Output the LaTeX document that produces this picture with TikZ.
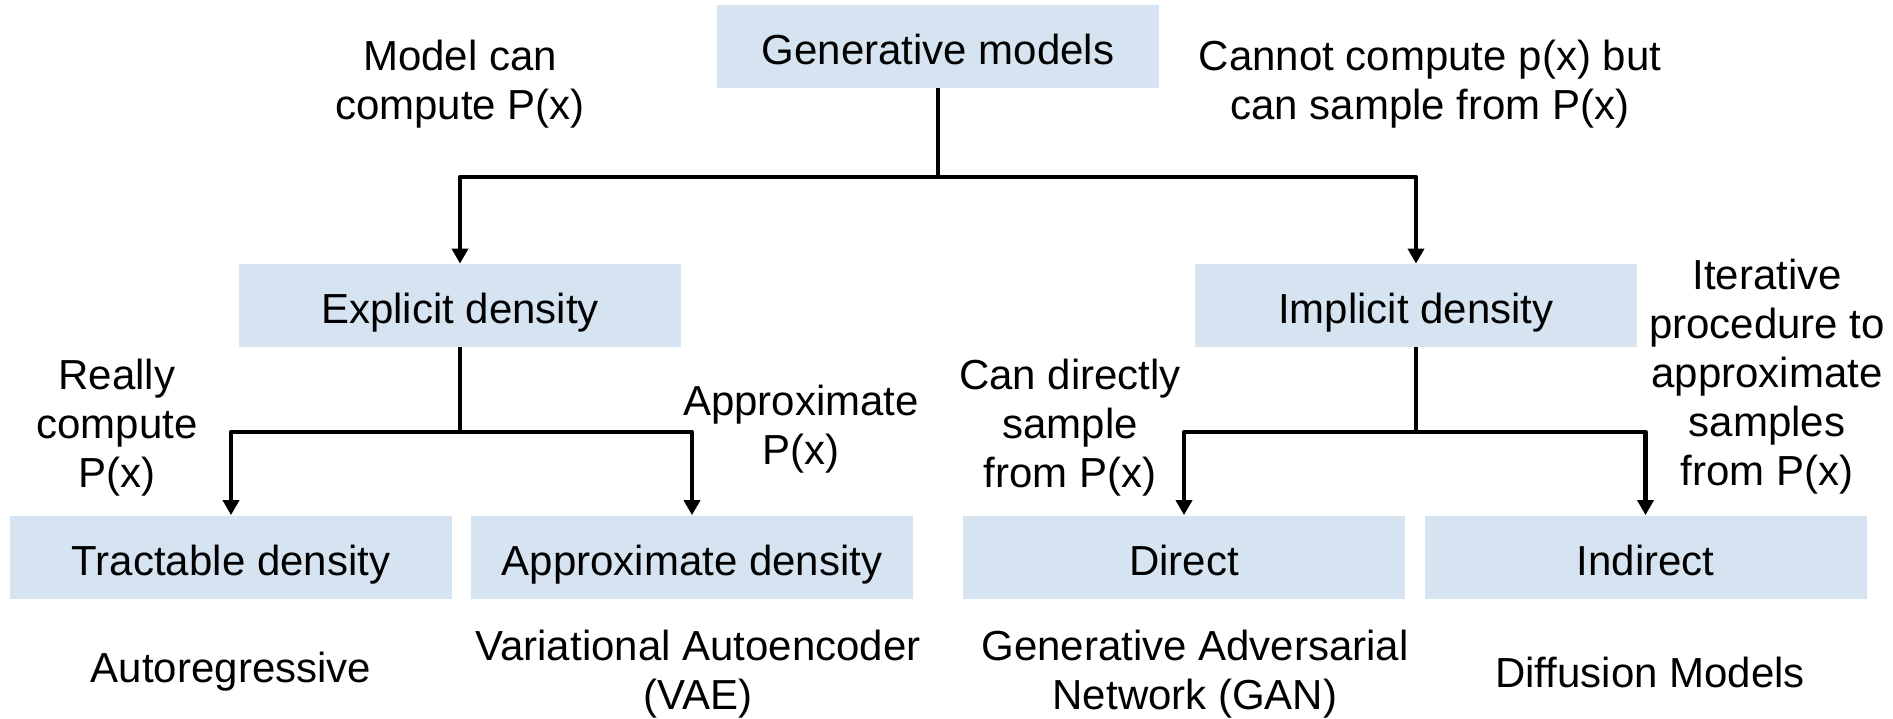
\documentclass[tikz,border=0pt]{standalone}
\usepackage{fontspec}
\setmainfont{Liberation Sans}
\usetikzlibrary{arrows.meta}
\definecolor{boxblue}{RGB}{214,228,241}
\tikzset{
  cat/.style={fill=boxblue, minimum width=221pt, minimum height=41.5pt, inner sep=0pt, text height=18pt, text depth=0pt, font=\fontsize{21}{24.5}\selectfont},
  lbl/.style={align=center, inner sep=0pt, font=\fontsize{21}{24.5}\selectfont},
  conn/.style={line width=2.4pt, line join=round},
  arr/.style={conn, -{Triangle[length=7.5pt,width=8pt]}}
}
\begin{document}
\begin{tikzpicture}[x=0.5pt,y=-0.5pt]
\useasboundingbox (0,0) rectangle (1893,718);
% boxes
\node[cat] (gen) at (938,46.5) {Generative models};
\node[cat] (exp) at (460,305.5) {Explicit density};
\node[cat] (imp) at (1416,305.5) {Implicit density};
\node[cat] (tra) at (231,557) {Tractable density};
\node[cat] (apx) at (692,557) {Approximate density};
\node[cat] (dir) at (1184,557) {Direct};
\node[cat] (ind) at (1645.5,557) {Indirect};
% labels
\node[lbl] (l1) at (460,84) {Model can\\compute P(x)};
\node[lbl] (l2) at (1430,84) {Cannot compute p(x) but\\can sample from P(x)};
\node[lbl] (l3) at (117,428) {Really\\compute\\P(x)};
\node[lbl] (l4) at (801,429) {Approximate\\P(x)};
\node[lbl] (l5) at (1070,428) {Can directly\\sample\\from P(x)};
\node[lbl] (l6) at (1767,377) {Iterative\\procedure to\\approximate\\samples\\from P(x)};
\node[lbl] (e1) at (231,672) {Autoregressive};
\node[lbl] (e2) at (698,674) {Variational Autoencoder\\(VAE)};
\node[lbl] (e3) at (1195,674) {Generative Adversarial\\Network (GAN)};
\node[lbl] (e4) at (1650,672) {Diffusion Models};
% connectors
\coordinate (j1) at (938,177);
\coordinate (j2) at (460,432);
\coordinate (j3) at (1416,432);
\draw[arr] (gen.south) -- (j1) -| (exp.north);
\draw[arr] (j1) -| (imp.north);
\draw[arr] (exp.south) -- (j2) -| (tra.north);
\draw[arr] (j2) -| (apx.north);
\draw[arr] (imp.south) -- (j3) -| (dir.north);
\draw[arr] (j3) -| (ind.north);
\end{tikzpicture}
\end{document}
